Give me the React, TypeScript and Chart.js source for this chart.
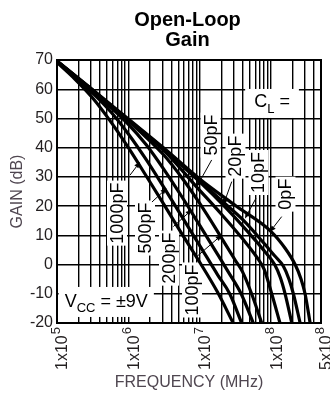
import React, { useEffect, useRef } from 'react';
import { Chart, registerables } from 'chart.js';
Chart.register(...registerables);

const FONT = '"Liberation Sans", Arial, Helvetica, sans-serif';
const AXIS_TITLE_COLOR = '#4f4650';

// ---- data (frequency in Hz, gain in dB) ----
const capLabels = ['0pF', '10pF', '20pF', '50pF', '100pF', '200pF', '500pF', '1000pF'];

const freq0 = [1e5, 3.16e5, 1e6, 3.16e6, 1e7, 3.16e7, 1e8, 1.58e8, 2.17e8, 2.63e8, 2.99e8, 3.52e8];
const gain0 = [69.7, 59.8, 49.8, 39.8, 29.3, 20.2, 11.3, 5.5, 0, -5, -10, -20];

const freq10 = [1e5, 3.16e5, 1e6, 3.16e6, 1e7, 2e7, 4.07e7, 7.94e7, 1.12e8, 1.48e8, 1.78e8, 2.05e8, 2.55e8];
const gain10 = [69.6, 59.7, 49.6, 39.5, 28.7, 22, 15.2, 7.3, 3, -0.5, -5, -10, -20];

const freq20 = [1e5, 3.16e5, 1e6, 3.16e6, 1e7, 2.14e7, 5.01e7, 7.94e7, 1.12e8, 1.35e8, 1.57e8, 1.95e8];
const gain20 = [69.5, 59.6, 49.5, 39.3, 28.3, 20.3, 10.5, 4.8, 0, -4.5, -10, -20];

const freq50 = [1e5, 3.16e5, 1e6, 3.16e6, 9.02e6, 2e7, 3.98e7, 6.31e7, 7.94e7, 1.02e8, 1.33e8];
const gain50 = [69.5, 59.5, 49.4, 39, 26.6, 17.3, 8.8, 2.5, -1.5, -10, -20];

const freq100 = [1e5, 3.16e5, 1e6, 3.16e6, 5.62e6, 1e7, 1.78e7, 3.16e7, 3.98e7, 5.33e7, 7.38e7];
const gain100 = [69.5, 59.5, 49.2, 37.4, 29.7, 20.9, 11.3, 1.4, -2.5, -10, -20];

const freq200 = [1e5, 3.16e5, 1e6, 1.78e6, 3.16e6, 5.62e6, 1e7, 1.78e7, 2.51e7, 3.8e7, 5.62e7];
const gain200 = [69.5, 59.3, 48.0, 41.0, 32.5, 23.2, 13.4, 3.5, -2.5, -10, -20];

const freq500 = [1e5, 3.16e5, 5.62e5, 1e6, 1.78e6, 3.16e6, 5.62e6, 1e7, 1.78e7, 2.63e7, 3.86e7];
const gain500 = [69.4, 58.7, 52.4, 44.7, 35.9, 26.3, 16.4, 6.5, -3.5, -10, -20];

const freq1000 = [1e5, 1.78e5, 3.16e5, 5.62e5, 1e6, 1.78e6, 3.16e6, 5.62e6, 1e7, 1.78e7, 2.94e7];
const gain1000 = [69.2, 63.5, 57.0, 49.0, 40.0, 30.3, 20.5, 10.5, 0.8, -9.5, -20];

const seriesFreq = [freq0, freq10, freq20, freq50, freq100, freq200, freq500, freq1000];
const seriesGain = [gain0, gain10, gain20, gain50, gain100, gain200, gain500, gain1000];

// axis ticks
const yMin = -20;
const yMax = 70;
const yStep = 10;
const xMin = 1e5;
const xMax = 5e8;
const xTickValues = [1e5, 1e6, 1e7, 1e8, 5e8];
const xTickMantissa = ['1', '1', '1', '1', '5'];
const xTickExponent = ['5', '6', '7', '8', '8'];

// annotation labels (data coordinates)
const labelFreq = [1.59e8, 6.65e7, 3.17e7, 1.42e7, 7.8e6, 3.71e6, 1.71e6, 6.93e5];
const labelGain = [24.1, 31.5, 37.1, 44.3, -8.7, 2.2, 12.5, 17.6];
const arrowFromFreq = [1.406e8, 6.14e7, 2.81e7, 1.47e7, 9.06e6, 4.27e6, 2.14e6, 1.054e6];
const arrowFromGain = [16.4, 22.7, 28.4, 35.8, 2.7, 13.0, 21.4, 30.6];
const arrowToFreq = [9.64e7, 4.31e7, 2.14e7, 9.06e6, 2.03e7, 7.71e6, 3.44e6, 1.455e6];
const arrowToGain = [11.2, 15.8, 20.4, 26.6, 10.1, 18.7, 26.1, 35.1];

const clFreq = 1.03e8;
const clGain = 55.3;
const vccFreq = 4.9e5;
const vccGain = -12.8;

const titleLines = ['Open-Loop', 'Gain'];

function buildGridValues(): number[] {
  const vals: number[] = [];
  for (let e = 5; e <= 8; e++) {
    for (let m = 1; m <= 9; m++) {
      const v = m * Math.pow(10, e);
      if (v <= xMax * 1.0001) vals.push(v);
    }
  }
  return vals;
}

const annotPlugin = {
  id: 'annot',
  beforeDatasetsDraw(chart: any) {
    const { ctx, scales } = chart;
    const xs = scales.x;
    const ys = scales.y;
    ctx.save();
    // rotated capacitance labels
    ctx.font = `18px ${FONT}`;
    for (let i = 0; i < capLabels.length; i++) {
      const cx = xs.getPixelForValue(labelFreq[i]);
      const cy = ys.getPixelForValue(labelGain[i]);
      const w = ctx.measureText(capLabels[i]).width;
      ctx.save();
      ctx.translate(cx, cy);
      ctx.rotate(-Math.PI / 2);
      ctx.fillStyle = '#fff';
      ctx.fillRect(-w / 2 - 2, -10, w + 4, 20);
      ctx.fillStyle = '#000';
      ctx.textAlign = 'center';
      ctx.textBaseline = 'middle';
      ctx.fillText(capLabels[i], 0, 1);
      ctx.restore();
    }
    // C_L =
    {
      const cx = xs.getPixelForValue(clFreq);
      const cy = ys.getPixelForValue(clGain);
      ctx.font = `18px ${FONT}`;
      const wC = ctx.measureText('C').width;
      const wEq = ctx.measureText(' =').width;
      ctx.font = `13px ${FONT}`;
      const wL = ctx.measureText('L').width;
      const total = wC + wL + wEq;
      ctx.fillStyle = '#fff';
      ctx.fillRect(cx - total / 2 - 9, cy - 14, total + 18, 29);
      ctx.fillStyle = '#000';
      ctx.textBaseline = 'alphabetic';
      ctx.textAlign = 'left';
      let x0 = cx - total / 2;
      ctx.font = `18px ${FONT}`;
      ctx.fillText('C', x0, cy + 4);
      x0 += wC;
      ctx.font = `13px ${FONT}`;
      ctx.fillText('L', x0, cy + 10);
      x0 += wL;
      ctx.font = `18px ${FONT}`;
      ctx.fillText(' =', x0, cy + 4);
    }
    // V_CC = ±9V
    {
      const cx = xs.getPixelForValue(vccFreq);
      const cy = ys.getPixelForValue(vccGain);
      ctx.font = `18px ${FONT}`;
      const wV = ctx.measureText('V').width;
      const wRest = ctx.measureText(' = \u00b19V').width;
      ctx.font = `13px ${FONT}`;
      const wCC = ctx.measureText('CC').width;
      const total = wV + wCC + wRest;
      ctx.fillStyle = '#fff';
      ctx.fillRect(cx - total / 2 - 6, cy - 15, total + 12, 30);
      ctx.fillStyle = '#000';
      ctx.textAlign = 'left';
      ctx.textBaseline = 'alphabetic';
      let x0 = cx - total / 2;
      ctx.font = `18px ${FONT}`;
      ctx.fillText('V', x0, cy + 5);
      x0 += wV;
      ctx.font = `13px ${FONT}`;
      ctx.fillText('CC', x0, cy + 10);
      x0 += wCC;
      ctx.font = `18px ${FONT}`;
      ctx.fillText(' = \u00b19V', x0, cy + 5);
    }
    ctx.restore();
  },
  afterDatasetsDraw(chart: any) {
    const { ctx, scales, chartArea } = chart;
    const xs = scales.x;
    const ys = scales.y;
    ctx.save();
    // arrows
    ctx.strokeStyle = '#000';
    ctx.fillStyle = '#000';
    ctx.lineWidth = 1;
    for (let i = 0; i < capLabels.length; i++) {
      const x1 = xs.getPixelForValue(arrowFromFreq[i]);
      const y1 = ys.getPixelForValue(arrowFromGain[i]);
      const x2 = xs.getPixelForValue(arrowToFreq[i]);
      const y2 = ys.getPixelForValue(arrowToGain[i]);
      const ang = Math.atan2(y2 - y1, x2 - x1);
      const head = 6;
      const hw = 2.6;
      const bx = x2 - head * Math.cos(ang);
      const by = y2 - head * Math.sin(ang);
      ctx.beginPath();
      ctx.moveTo(x1, y1);
      ctx.lineTo(bx, by);
      ctx.stroke();
      ctx.beginPath();
      ctx.moveTo(x2, y2);
      ctx.lineTo(bx - hw * Math.sin(ang), by + hw * Math.cos(ang));
      ctx.lineTo(bx + hw * Math.sin(ang), by - hw * Math.cos(ang));
      ctx.closePath();
      ctx.fill();
    }
    // plot frame
    ctx.lineWidth = 2;
    ctx.strokeRect(chartArea.left, chartArea.top, chartArea.right - chartArea.left, chartArea.bottom - chartArea.top);
    ctx.restore();
  },
  afterDraw(chart: any) {
    const { ctx, scales, chartArea } = chart;
    const xs = scales.x;
    ctx.save();
    // title
    ctx.fillStyle = '#000';
    ctx.font = `bold 20px ${FONT}`;
    ctx.textAlign = 'center';
    ctx.textBaseline = 'alphabetic';
    const tx = (chartArea.left + chartArea.right) / 2 - 1.5;
    ctx.fillText(titleLines[0], tx, 26);
    ctx.fillText(titleLines[1], tx, 46);
    // x tick labels with superscript exponent, rotated
    for (let i = 0; i < xTickValues.length; i++) {
      const px = xs.getPixelForValue(xTickValues[i]);
      const main = xTickMantissa[i] + 'x10';
      ctx.save();
      ctx.translate(px, chartArea.bottom);
      ctx.rotate(-Math.PI / 2);
      ctx.textBaseline = 'middle';
      ctx.textAlign = 'right';
      ctx.fillStyle = '#231f20';
      ctx.font = `13px ${FONT}`;
      const supW = ctx.measureText(xTickExponent[i]).width;
      ctx.fillText(xTickExponent[i], -4, -0.5);
      ctx.font = `16px ${FONT}`;
      ctx.fillText(main, -5 - supW, 6);
      ctx.restore();
    }
    ctx.restore();
  },
};

export default function App() {
  const ref = useRef<HTMLCanvasElement>(null);
  useEffect(() => {
    const canvas = ref.current;
    if (!canvas) return;
    const gridValues = buildGridValues();
    const datasets = capLabels.map((lab, i) => ({
      label: lab,
      data: seriesFreq[i].map((f, j) => ({ x: f, y: seriesGain[i][j] })),
      borderColor: '#000',
      backgroundColor: '#000',
      borderWidth: 3.2,
      pointRadius: 0,
      fill: false,
      cubicInterpolationMode: 'monotone' as const,
    }));
    const chart = new Chart(canvas, {
      type: 'line',
      data: { datasets },
      options: {
        responsive: false,
        animation: false,
        devicePixelRatio: 1,
        layout: { padding: { top: 60, right: 9, bottom: 0, left: 0 } },
        plugins: {
          legend: { display: false },
          tooltip: { enabled: false },
          title: { display: false },
        },
        scales: {
          x: {
            type: 'logarithmic',
            min: xMin,
            max: xMax,
            afterBuildTicks: (s: any) => {
              s.ticks = gridValues.map((v) => ({ value: v }));
            },
            afterFit: (s: any) => {
              s.height = 70;
              s.paddingLeft = 0;
              s.paddingRight = 0;
            },
            ticks: { display: false },
            grid: { color: '#000', lineWidth: 1.4, drawTicks: false },
            border: { display: false },
            title: {
              display: true,
              text: 'FREQUENCY (MHz)',
              color: AXIS_TITLE_COLOR,
              font: { family: FONT, size: 16 },
              padding: { top: 0, bottom: 1 },
            },
          },
          y: {
            type: 'linear',
            min: yMin,
            max: yMax,
            afterFit: (s: any) => {
              s.width = 57;
              s.paddingTop = 0;
              s.paddingBottom = 0;
            },
            ticks: {
              stepSize: yStep,
              color: '#231f20',
              font: { family: FONT, size: 16 },
              padding: 4,
            },
            grid: { color: '#000', lineWidth: 1.4, drawTicks: false },
            border: { display: false },
            title: {
              display: true,
              text: 'GAIN (dB)',
              color: AXIS_TITLE_COLOR,
              font: { family: FONT, size: 16 },
              padding: { top: 8.4, bottom: 0 },
            },
          },
        },
      },
      plugins: [annotPlugin],
    });
    return () => chart.destroy();
  }, []);
  return (
    <div style={{ position: 'fixed', left: 0, top: 0, width: 330, height: 393, background: '#fff' }}>
      <canvas ref={ref} width={330} height={393} style={{ display: 'block', width: 330, height: 393 }} />
    </div>
  );
}
